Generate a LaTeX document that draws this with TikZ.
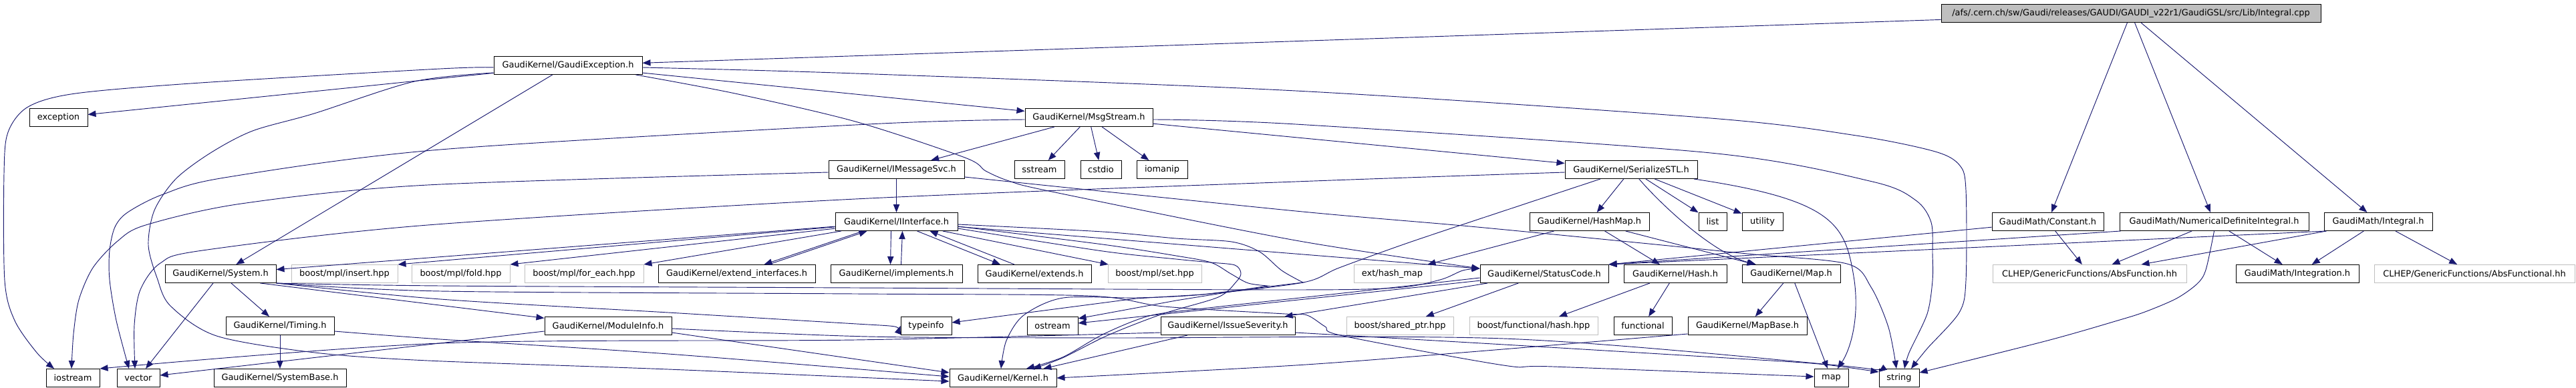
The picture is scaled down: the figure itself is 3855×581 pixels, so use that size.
\documentclass[tikz,border=0pt]{standalone}
\usepackage{fontspec}
\setmainfont{DejaVu Sans}
\usetikzlibrary{arrows.meta,calc}
\definecolor{edgec}{RGB}{25,25,112}
\definecolor{boxgray}{RGB}{191,191,191}
\newcommand{\mkbox}[6]{\node[#6, minimum width={(#3-#2)*0.75pt}] (#1) at ({(#2+#3)/2},#4) {#5};}
\begin{document}
\begin{tikzpicture}[x=0.75pt,y=-0.75pt,
  nbox/.style={draw=black, line width=0.75pt, fill=white, rectangle, minimum height=20.25pt, inner sep=0pt, font=\fontsize{9.7}{11}\selectfont, text=black},
  gnbox/.style={nbox, draw=boxgray},
  rbox/.style={nbox, fill=boxgray},
  edg/.style={draw=edgec, line width=0.7pt, -{Triangle[length=9pt,width=7pt]}}]
\useasboundingbox (0,0) rectangle (3855,581);
\fill[white] (0,0) rectangle (3855,581);
% ---- nodes ----
\mkbox{root}{2905}{3473}{20}{/afs/.cern.ch/sw/Gaudi/releases/GAUDI/GAUDI\_v22r1/GaudiGSL/src/Lib/Integral.cpp}{rbox}
\mkbox{GE}{739}{961}{98}{GaudiKernel/GaudiException.h}{nbox}
\mkbox{exc}{44}{131}{176}{exception}{nbox}
\mkbox{MS}{1534}{1725}{176}{GaudiKernel/MsgStream.h}{nbox}
\mkbox{IMS}{1240}{1443}{254}{GaudiKernel/IMessageSvc.h}{nbox}
\mkbox{sstream}{1518}{1593}{254}{sstream}{nbox}
\mkbox{cstdio}{1617}{1678}{254}{cstdio}{nbox}
\mkbox{iomanip}{1701}{1777}{254}{iomanip}{nbox}
\mkbox{SSTL}{2342}{2540}{254}{GaudiKernel/SerializeSTL.h}{nbox}
\mkbox{II}{1250}{1433}{332}{GaudiKernel/IInterface.h}{nbox}
\mkbox{HashMap}{2289}{2468}{332}{GaudiKernel/HashMap.h}{nbox}
\mkbox{list}{2542}{2584}{332}{list}{nbox}
\mkbox{utility}{2607}{2668}{332}{utility}{nbox}
\mkbox{Const}{2981}{3148}{332}{GaudiMath/Constant.h}{nbox}
\mkbox{NDI}{3172}{3455}{332}{GaudiMath/NumericalDefiniteIntegral.h}{nbox}
\mkbox{GI}{3478}{3640}{332}{GaudiMath/Integral.h}{nbox}
\mkbox{Sys}{247}{413}{410}{GaudiKernel/System.h}{nbox}
\mkbox{insert}{436}{595}{410}{boost/mpl/insert.hpp}{gnbox}
\mkbox{fold}{616}{763}{410}{boost/mpl/fold.hpp}{gnbox}
\mkbox{foreach}{785}{963}{410}{boost/mpl/for\_each.hpp}{gnbox}
\mkbox{extif}{985}{1220}{410}{GaudiKernel/extend\_interfaces.h}{nbox}
\mkbox{impl}{1243}{1440}{410}{GaudiKernel/implements.h}{nbox}
\mkbox{ext}{1463}{1633}{410}{GaudiKernel/extends.h}{nbox}
\mkbox{set}{1658}{1798}{410}{boost/mpl/set.hpp}{gnbox}
\mkbox{hmap}{2026}{2141}{410}{ext/hash\_map}{gnbox}
\mkbox{SC}{2215}{2407}{410}{GaudiKernel/StatusCode.h}{nbox}
\mkbox{Hash}{2430}{2584}{410}{GaudiKernel/Hash.h}{nbox}
\mkbox{Map}{2607}{2754}{410}{GaudiKernel/Map.h}{nbox}
\mkbox{AbsF}{2982}{3272}{410}{CLHEP/GenericFunctions/AbsFunction.hh}{gnbox}
\mkbox{Integ}{3346}{3530}{410}{GaudiMath/Integration.h}{nbox}
\mkbox{AbsFl}{3553}{3853}{410}{CLHEP/GenericFunctions/AbsFunctional.hh}{gnbox}
\mkbox{Timing}{338}{500}{488}{GaudiKernel/Timing.h}{nbox}
\mkbox{ModInfo}{815}{1005}{488}{GaudiKernel/ModuleInfo.h}{nbox}
\mkbox{typeinfo}{1348}{1424}{488}{typeinfo}{nbox}
\mkbox{ostream}{1537}{1613}{488}{ostream}{nbox}
\mkbox{IssSev}{1737}{1938}{488}{GaudiKernel/IssueSeverity.h}{nbox}
\mkbox{shptr}{2015}{2175}{488}{boost/shared\_ptr.hpp}{gnbox}
\mkbox{fhash}{2199}{2391}{488}{boost/functional/hash.hpp}{gnbox}
\mkbox{functional}{2415}{2502}{488}{functional}{nbox}
\mkbox{MapBase}{2526}{2704}{488}{GaudiKernel/MapBase.h}{nbox}
\mkbox{iostream}{69}{149}{566}{iostream}{nbox}
\mkbox{vector}{175}{239}{566}{vector}{nbox}
\mkbox{SysBase}{320}{518}{566}{GaudiKernel/SystemBase.h}{nbox}
\mkbox{Kernel}{1421}{1581}{566}{GaudiKernel/Kernel.h}{nbox}
\mkbox{map}{2715}{2766}{566}{map}{nbox}
\mkbox{string}{2812}{2872}{566}{string}{nbox}
% ---- end points of routed connectors ----
\coordinate (p1s) at ($(GE.west)+(0,3)$);
\coordinate (p1t) at ($(iostream.north)+(-28,0)$);
\coordinate (p2s) at ($(GE.west)+(0,11)$);
\coordinate (p2t) at ($(Kernel.west)+(0,5)$);
\coordinate (p3s) at ($(GE.east)+(0,3)$);
\coordinate (p3t) at ($(string.north)+(18,0)$);
\coordinate (p4s) at ($(GE.south east)+(-10,0)$);
\coordinate (p4t) at ($(SC.west)+(0,-8)$);
\coordinate (p5s) at ($(MS.east)+(0,3)$);
\coordinate (p5t) at ($(string.north)+(8,0)$);
\coordinate (p6s) at ($(MS.west)+(0,3)$);
\coordinate (p6t) at ($(vector.north)+(-14,0)$);
\coordinate (p7s) at ($(IMS.west)+(0,4)$);
\coordinate (p7t) at ($(iostream.north)+(-2,0)$);
\coordinate (p8s) at ($(IMS.east)+(0,11)$);
\coordinate (p8t) at ($(string.north)+(-4,0)$);
\coordinate (p9s) at ($(SSTL.west)+(0,4)$);
\coordinate (p9t) at ($(vector.north)+(-5,0)$);
\coordinate (p10s) at ($(SSTL.south)+(-46,0)$);
\coordinate (p10t) at ($(Kernel.north)+(-3,0)$);
\coordinate (p11s) at ($(MapBase.west)+(0,12)$);
\coordinate (p12t) at ($(string.east)+(0,-8)$);
\coordinate (p13s) at ($(II.east)+(0,4)$);
\coordinate (p13t) at ($(typeinfo.east)+(0,-5)$);
\coordinate (p14s) at ($(II.east)+(0,7)$);
\coordinate (p14t) at ($(ostream.north east)+(0,3)$);
\coordinate (p15s) at ($(II.east)+(0,10)$);
\coordinate (p15t) at ($(Kernel.north)+(45,0)$);
\coordinate (p16s) at ($(SC.west)+(0,6)$);
\coordinate (p16t) at ($(Kernel.north)+(35,0)$);
\coordinate (p17s) at ($(IssSev.west)+(0,10)$);
\coordinate (p18s) at ($(IssSev.east)+(0,10)$);
\coordinate (p18t) at ($(string.west)+(0,-9)$);
\coordinate (p20t) at ($(map.west)+(0,-2)$);
\coordinate (p21s) at ($(ModInfo.east)+(0,4)$);
\coordinate (p21t) at ($(string.west)+(0,-9)$);
\coordinate (p22s) at ($(Timing.east)+(0,8)$);
\coordinate (p22t) at ($(Kernel.west)+(0,-2)$);
% ---- root ----
\draw[edg] (root) -- (GE);
\draw[edg] (root) -- (Const);
\draw[edg] (root) -- (NDI);
\draw[edg] ($(root.south)+(15,0)$) -- (GI);
% ---- GaudiException.h ----
\draw[edg] (GE) -- (exc);
\draw[edg] plot[smooth] coordinates {(p1s) (659,103) (300,124) (113,140) (42,160) (12,198) (6,260) (7,420) (22,480) (55,528) (p1t)};
\draw[edg] plot[smooth] coordinates {(p2s) (620,122) (470,170) (378,196) (315,229) (263,268) (231,315) (222,367) (235,416) (255,458) (324,503) (471,528) (640,540) (1000,553) (p2t)};
\draw[edg] (GE) -- (Sys);
\draw[edg] (GE) -- (MS);
\draw[edg] plot[smooth] coordinates {(p3s) (1280,110) (1939,136) (2560,177) (2778,203) (2896,227) (2933,248) (2942,285) (2942,420) (2932,468) (2884,522) (p3t)};
\draw[edg] plot[smooth] coordinates {(p4s) (1100,140) (1280,182) (1444,236) (1475,256) (1510,271) (1574,287) (1939,360) (p4t)};
% ---- MsgStream.h ----
\draw[edg] (MS) -- (IMS);
\draw[edg] (MS) -- (sstream);
\draw[edg] (MS) -- (cstdio);
\draw[edg] (MS) -- (iomanip);
\draw[edg] (MS) -- (SSTL);
\draw[edg] plot[smooth] coordinates {(p5s) (1939,186) (2560,229) (2802,272) (2867,300) (2890,333) (2892,380) (2892,420) (2884,470) (2857,528) (p5t)};
\draw[edg] plot[smooth] coordinates {(p6s) (1299,186) (659,224) (336,266) (244,291) (191,318) (172,340) (164,375) (164,419) (174,480) (p6t)};
% ---- IMessageSvc.h ----
\draw[edg] (IMS) -- (II);
\draw[edg] plot[smooth] coordinates {(p7s) (640,277) (361,305) (218,337) (176,361) (139,401) (118,449) (110,500) (p7t)};
\draw[edg] plot[smooth] coordinates {(p8s) (1939,316) (2200,339) (2457,364) (2615,380) (2764,395) (2800,430) (2826,490) (p8t)};
% ---- SerializeSTL.h ----
\draw[edg] (SSTL) -- (HashMap);
\draw[edg] (SSTL) -- (list);
\draw[edg] (SSTL) -- (utility);
\draw[edg] (SSTL) .. controls (2480,300) and (2560,378) .. (Map);
\draw[edg] (SSTL) .. controls (2750,300) and (2762,338) .. (2775,420) .. controls (2783,480) and (2768,525) .. (map);
\draw[edg] plot[smooth] coordinates {(p9s) (1939,272) (1280,298) (640,337) (303,375) (240,394) (210,434) (201,487) (p9t)};
\draw[edg] plot[smooth] coordinates {(p10s) (2265,311) (2109,363) (2004,401) (1950,423) (1800,441) (1700,446) (1591,446) (1532,472) (1506,510) (p10t)};
% ---- HashMap.h, Hash.h, Map.h, MapBase.h ----
\draw[edg] (HashMap) -- (hmap);
\draw[edg] (HashMap) -- (Hash);
\draw[edg] (HashMap) -- (Map);
\draw[edg] (Hash) -- (fhash);
\draw[edg] (Hash) -- (functional);
\draw[edg] (Map) -- (MapBase);
\draw[edg] (Map) -- (map);
\draw[edg] plot[smooth] coordinates {(p11s) (2200,527) (1939,547) (Kernel.east)};
% ---- GaudiMath ----
\draw[edg] (Const) -- (AbsF);
\draw[edg] (Const) -- (SC.north east);
\draw[edg] ($(NDI.south west)+(2,0)$) -- (SC.north east);
\draw[edg] (NDI) -- (AbsF);
\draw[edg] (NDI) -- (Integ);
\draw[edg] plot[smooth] coordinates {(NDI.south) (3301,404) (3288,425) (3257,447) (3210,467) (3169,480) (3064,510) (p12t)};
\draw[edg] (GI) -- (Integ);
\draw[edg] (GI) -- (AbsFl);
\draw[edg] (GI) -- (AbsF);
\draw[edg] ($(GI.south west)+(3,0)$) -- (SC.north east);
% ---- IInterface.h ----
\draw[edg] (II) -- (Sys);
\draw[edg] (II) -- (insert.north east);
\draw[edg] (II) -- (fold.north east);
\draw[edg] (II) -- (foreach.north east);
\draw[edg] ($(II.south)+(-50,0)$) -- ($(extif.north)+(41,0)$);
\draw[edg] ($(extif.north)+(48,0)$) -- ($(II.south)+(-44,0)$);
\draw[edg] ($(II.south)+(-8,0)$) -- ($(impl.north)+(-9,0)$);
\draw[edg] ($(impl.north)+(7,0)$) -- ($(II.south)+(9,0)$);
\draw[edg] ($(II.south)+(31,0)$) -- ($(ext.north)+(-51,0)$);
\draw[edg] ($(ext.north)+(-30,0)$) -- ($(II.south)+(50,0)$);
\draw[edg] (II) -- (set);
\draw[edg] (II) -- (SC);
\draw[edg] plot[smooth] coordinates {(p13s) (1650,347) (1760,357) (1843,362) (1885,377) (1918,405) (1950,423)} -- (1800,441) -- (1700,447) -- (p13t);
\draw[edg] plot[smooth] coordinates {(p14s) (1650,366) (1760,383) (1812,393) (1842,410) (1868,424) (1897,428)} -- (1760,450) -- (p14t);
\draw[edg] plot[smooth] coordinates {(p15s) (1650,376) (1760,388) (1812,393) (1848,397) (1857,409) (1850,422) (1823,445) (1740,470) (1658,502) (1590,536) (p15t)};
% ---- StatusCode.h ----
\draw[edg] (SC) -- (shptr);
\draw[edg] (SC) -- (ostream);
\draw[edg] plot[smooth] coordinates {(p16s) (2000,440) (1800,462) (1720,473) (1652,500) (1590,535) (p16t)};
\draw[edg] (SC) -- (IssSev);
% ---- IssueSeverity.h ----
\draw[edg] (IssSev) -- (Kernel);
\draw[edg] plot[smooth] coordinates {(p17s) (1280,509) (659,514) (iostream.north east)};
\draw[edg] plot[smooth] coordinates {(p18s) (2251,516) (2600,537) (2722,545) (p18t)};
% ---- System.h ----
\draw[edg] (Sys) -- (vector);
\draw[edg] (Sys) -- (Timing);
\draw[edg] ($(Sys.south east)+(-24,0)$) -- (ModInfo);
\draw[edg] plot[smooth] coordinates {(Sys.south east) (659,448) (1000,468) (1299,486) (typeinfo.west)};
\draw[edg] plot[smooth] coordinates {(Sys.south east) (659,428) (1280,431) (1920,434) (2088,431) (2155,419) (2189,405) (p4t)};
\draw[edg] plot[smooth] coordinates {(Sys.south east) (659,436) (1280,440) (1629,443) (1742,459) (1923,470) (1956,472) (1983,489) (2010,503) (2250,547) (2324,549) (p20t)};
% ---- ModuleInfo.h ----
\draw[edg] ($(ModInfo.west)+(0,8)$) -- ($(vector.east)+(0,-4)$);
\draw[edg] ($(ModInfo.east)+(0,10)$) -- ($(Kernel.west)+(0,-8)$);
\draw[edg] plot[smooth] coordinates {(p21s) (1299,504) (1650,506) (2250,507) (2739,546) (p21t)};
% ---- Timing.h ----
\draw[edg] (Timing) -- (SysBase);
\draw[edg] plot[smooth] coordinates {(p22s) (659,508) (1000,530) (p22t)};
\end{tikzpicture}
\end{document}
